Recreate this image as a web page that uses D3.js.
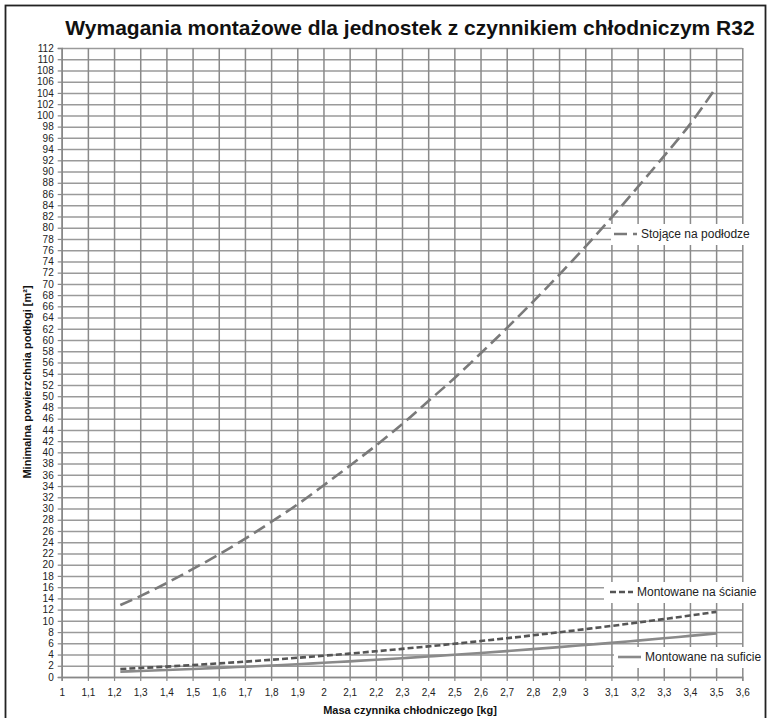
<!DOCTYPE html>
<html>
<head>
<meta charset="utf-8">
<script src="https://cdn.jsdelivr.net/npm/d3@7"></script>
<style>
  body { margin: 0; background: #fff; }
  svg text { font-family: "Liberation Sans", Arial, sans-serif; }
</style>
</head>
<body>
<div id="chart"></div>
<script>
// masa czynnika [kg]
const masa = [1.224, 1.3, 1.4, 1.5, 1.6, 1.7, 1.8, 1.9, 2.0, 2.1, 2.2, 2.3, 2.4,
  2.5, 2.6, 2.7, 2.8, 2.9, 3.0, 3.1, 3.2, 3.3, 3.4, 3.5];
// minimalna powierzchnia [m2]
const podloga = [12.8, 14.4, 16.7, 19.2, 21.8, 24.6, 27.6, 30.7, 34.1, 37.6, 41.2, 45.0, 49.1,
  53.2, 57.6, 62.1, 66.8, 71.6, 76.6, 81.8, 87.2, 92.7, 98.4, 105.0];
const sciana = [1.42, 1.60, 1.85, 2.13, 2.42, 2.73, 3.07, 3.42, 3.79, 4.17, 4.58, 5.01, 5.45,
  5.91, 6.40, 6.90, 7.42, 7.96, 8.52, 9.09, 9.69, 10.31, 10.94, 11.6];
const sufit = [0.95, 1.07, 1.24, 1.42, 1.62, 1.83, 2.05, 2.28, 2.53, 2.79, 3.06, 3.35, 3.65,
  3.96, 4.28, 4.61, 4.96, 5.32, 5.70, 6.08, 6.48, 6.89, 7.32, 7.75];

const xTicks = [1, 1.1, 1.2, 1.3, 1.4, 1.5, 1.6, 1.7, 1.8, 1.9, 2, 2.1, 2.2, 2.3, 2.4,
  2.5, 2.6, 2.7, 2.8, 2.9, 3, 3.1, 3.2, 3.3, 3.4, 3.5, 3.6];
const yTicks = d3.range(0, 113, 2);

const W = 771, H = 718;
const margin = { top: 48, right: 28.7, bottom: 41, left: 61.7 },
  width = W - margin.left - margin.right,
  height = H - margin.top - margin.bottom;

const svg = d3.select("#chart").append("svg")
  .attr("width", W)
  .attr("height", H);

// ramka
svg.append("rect")
  .attr("x", 5.5).attr("y", 5.5)
  .attr("width", 760).attr("height", 730)
  .attr("fill", "none")
  .attr("stroke", "#222")
  .attr("stroke-width", 1.8);

svg.append("text")
  .attr("x", 410).attr("y", 35)
  .attr("text-anchor", "middle")
  .attr("font-size", 21)
  .attr("font-weight", "bold")
  .attr("fill", "#111")
  .text("Wymagania montażowe dla jednostek z czynnikiem chłodniczym R32");

const g = svg.append("g")
  .attr("transform", "translate(" + margin.left + "," + margin.top + ")");

const x = d3.scaleLinear().domain([1, 3.6]).range([0, width]);
const y = d3.scaleLinear().domain([0, 112]).range([height, 0]);

const fmt = d => String(d).replace(".", ",");

// siatka
g.append("g")
  .attr("class", "grid")
  .call(d3.axisLeft(y).tickValues(yTicks).tickSize(-width).tickFormat(""))
  .call(a => a.select(".domain").remove())
  .selectAll("line").attr("stroke", "#9a9a9a").attr("stroke-width", 1.5);

g.append("g")
  .attr("class", "grid")
  .attr("transform", "translate(0," + height + ")")
  .call(d3.axisBottom(x).tickValues(xTicks).tickSize(-height).tickFormat(""))
  .call(a => a.select(".domain").remove())
  .selectAll("line").attr("stroke", "#8a8a8a").attr("stroke-width", 1.5);

// osie
const yAxis = g.append("g")
  .call(d3.axisLeft(y).tickValues(yTicks).tickSize(4).tickPadding(4).tickFormat(d => d));
const xAxis = g.append("g")
  .attr("transform", "translate(0," + height + ")")
  .call(d3.axisBottom(x).tickValues(xTicks).tickSize(4).tickPadding(8).tickFormat(fmt));

[yAxis, xAxis].forEach(a => {
  a.select(".domain").attr("stroke", "#888").attr("stroke-width", 1.5);
  a.selectAll(".tick line").attr("stroke", "#888").attr("stroke-width", 1.2);
  a.selectAll("text").attr("font-size", 10).attr("fill", "#222")
    .style("font-family", "'Liberation Sans', Arial, sans-serif");
});

// serie
const series = [
  { name: "Stojące na podłodze", values: podloga, color: "#7a7a7a", dash: "13,6" },
  { name: "Montowane na ścianie", values: sciana, color: "#555", dash: "6,3" },
  { name: "Montowane na suficie", values: sufit, color: "#8a8a8a", dash: null }
];

const line = d3.line()
  .x(d => x(d[0]))
  .y(d => y(d[1]))
  .curve(d3.curveMonotoneX);

series.forEach(s => {
  g.append("path")
    .datum(masa.map((m, i) => [m, s.values[i]]))
    .attr("fill", "none")
    .attr("stroke", s.color)
    .attr("stroke-width", 2.6)
    .attr("stroke-dasharray", s.dash)
    .attr("d", line);
});

// legendy
const legends = [
  { s: series[0], box: [611, 224, 145, 21], ly: 234, x0: 614, x1: 637 },
  { s: series[1], box: [604, 582, 152, 21], ly: 592, x0: 610, x1: 633 },
  { s: series[2], box: [614, 647, 145, 21], ly: 657, x0: 618, x1: 641 }
];

legends.forEach(l => {
  svg.append("rect")
    .attr("x", l.box[0]).attr("y", l.box[1])
    .attr("width", l.box[2]).attr("height", l.box[3])
    .attr("fill", "#fff");
  svg.append("line")
    .attr("x1", l.x0).attr("x2", l.x1)
    .attr("y1", l.ly).attr("y2", l.ly)
    .attr("stroke", l.s.color)
    .attr("stroke-width", 2.6)
    .attr("stroke-dasharray", l.s.dash);
  svg.append("text")
    .attr("x", l.x1 + 4).attr("y", l.ly + 4)
    .attr("font-size", 12)
    .attr("fill", "#222")
    .text(l.s.name);
});

// tytuły osi
svg.append("text")
  .attr("x", 410).attr("y", 714)
  .attr("text-anchor", "middle")
  .attr("font-size", 11)
  .attr("font-weight", "bold")
  .attr("fill", "#111")
  .text("Masa czynnika chłodniczego [kg]");

svg.append("text")
  .attr("transform", "translate(31,382) rotate(-90)")
  .attr("text-anchor", "middle")
  .attr("font-size", 11)
  .attr("font-weight", "bold")
  .attr("fill", "#111")
  .text("Minimalna powierzchnia podłogi [m²]");
</script>
</body>
</html>
